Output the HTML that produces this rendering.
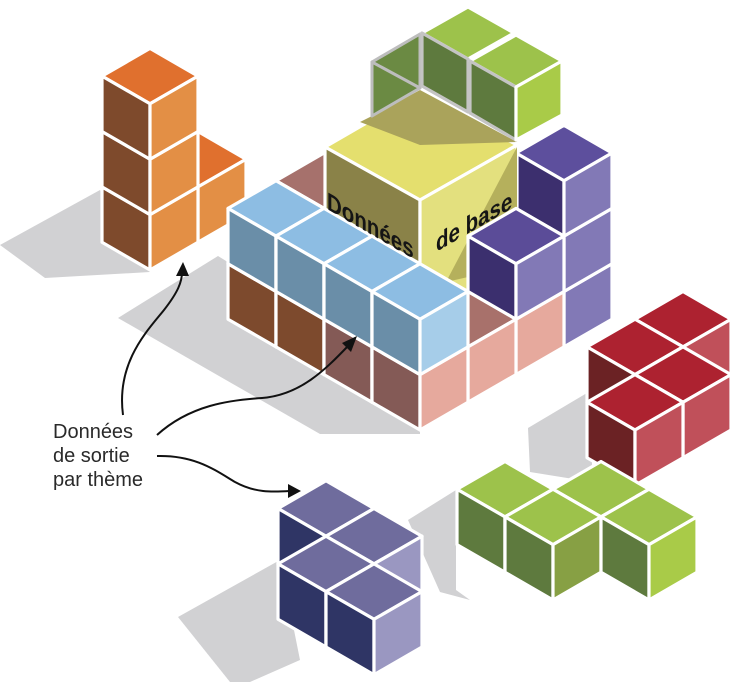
<!DOCTYPE html>
<html><head><meta charset="utf-8"><style>
html,body{margin:0;padding:0;background:#fff;}
svg{display:block;}
</style></head><body>
<svg id="s" width="740" height="682" viewBox="0 0 740 682" xmlns="http://www.w3.org/2000/svg">
<g fill="#d1d1d3">
<polygon points="0,245 100,190 150,272 45,278"/>
<polygon points="218,256 118,318 320,434 420,434 420,380"/>
<polygon points="528,428 592,390 592,482 530,472"/>
<polygon points="408,520 456,490 456,590 470,600 440,592"/>
<polygon points="178,617 280,560 300,660 250,682 230,682"/>
</g>
<g id="cubes" stroke="#fff" stroke-width="3.2" stroke-linejoin="round"></g>
<g fill="none" stroke="#111" stroke-width="2">
<path d="M123,415 C116,362 148,330 164,310 C178,292 182,282 182,272"/>
<path d="M157,435 C190,405 230,400 262,398 C300,395 325,370 348,346"/>
<path d="M157,456 C195,455 215,470 235,482 C255,493 272,492 290,491"/>
</g>
<g fill="#111">
<polygon points="183,262 176,276 189,276"/>
<polygon points="357,336 342,343 351,352"/>
<polygon points="301,491 288,484 288,498"/>
</g>
<g font-family="Liberation Sans, sans-serif" font-size="20" fill="#2a2a2a">
<text x="53" y="438">Données</text>
<text x="53" y="462">de sortie</text>
<text x="53" y="486">par thème</text>
</g>
</svg>
<script>
(function(){
var G=document.getElementById('cubes');var NS='http://www.w3.org/2000/svg';
function poly(pts,fill,attrs){var p=document.createElementNS(NS,'polygon');p.setAttribute('points',pts.map(function(a){return a[0].toFixed(1)+','+a[1].toFixed(1)}).join(' '));p.setAttribute('fill',fill);if(attrs)for(var k in attrs)p.setAttribute(k,attrs[k]);G.appendChild(p);return p;}
function cube(B,i,j,k,c){
 function P(x,y,z){return [B[0]+48*(x-y),B[1]+27.7*(x+y)-55.4*z];}
 poly([P(i,j,k+1),P(i+1,j,k+1),P(i+1,j+1,k+1),P(i,j+1,k+1)],c.t);
 poly([P(i,j+1,k),P(i+1,j+1,k),P(i+1,j+1,k+1),P(i,j+1,k+1)],c.l);
 poly([P(i+1,j,k),P(i+1,j+1,k),P(i+1,j+1,k+1),P(i+1,j,k+1)],c.r);
}
function grp(B,list,c){list.sort(function(a,b){return (a[0]+a[1]+a[2])-(b[0]+b[1]+b[2])||a[2]-b[2];});list.forEach(function(q){cube(B,q[0],q[1],q[2],q[3]||c);});}
var OR={t:'#e0702e',l:'#7e4a2c',r:'#e38f45'};
grp([150,214.6],[[0,-1,0],[0,0,0],[0,0,1],[0,0,2]],OR);
var M=[276,291.5];
var PU={t:'#5d4f9d',l:'#3c2f6e',r:'#8279b6'};
var PK={t:'#a8716b',l:'#845a56',r:'#e6a99d'};
cube(M,3,-3,0,PU);cube(M,3,-3,1,PU);cube(M,3,-3,2,PU);
cube(M,3,-2,0,PK);
cube(M,0,-1,1,{t:'#a6716c',l:'#8a5a56',r:'#a6716c'});
cube(M,3,-1,0,PK);
poly([[325,147],[420,92],[517,145],[420,200]],'#e4df6e');
poly([[325,147],[420,200],[420,330],[325,275]],'#8a8248');
poly([[420,200],[517,145],[517,265],[420,320]],'#e3e07e');
poly([[517,147],[446,282],[517,266]],'#b5b05c',{stroke:'none'});
poly([[360,122],[372,116],[420,90],[517,142],[420,145]],'#aaa35b',{stroke:'none'});
poly([[372,62],[420,34],[420,88],[372,116]],'#6b8a43',{stroke:'#bdbdbd','stroke-width':'3'});
poly([[372,62],[420,88]],'none',{stroke:'#bdbdbd','stroke-width':'3'});
poly([[422,33],[468,7],[514,33],[468,59]],'#9dc24b');
poly([[422,33],[468,59],[468,112],[422,86]],'#5e7a3e',{stroke:'#c4c4c4'});
poly([[470,61],[516,35],[562,61],[516,87]],'#9dc24b');
poly([[470,61],[516,87],[516,140],[470,113]],'#5e7a3e',{stroke:'#c4c4c4'});
poly([[516,87],[562,61],[562,115],[516,140]],'#a9cb48');
cube(M,3,-2,1,{t:'#5b4c98',l:'#3b2f6e',r:'#8279b6'});
var BR={t:'#8a5a56',l:'#7d4a2d',r:'#e6a99d'},MV={t:'#8a5a56',l:'#845a56',r:'#e6a99d'};
cube(M,0,0,0,BR);cube(M,1,0,0,BR);cube(M,2,0,0,MV);cube(M,3,0,0,MV);
var BL={t:'#8dbde3',l:'#6a8ea8',r:'#a6cde9'};
for(var i=0;i<4;i++)cube(M,i,0,1,BL);
grp([635,430],[[0,0,0],[0,-1,0],[-1,-1,0],[-1,-2,0]],{t:'#ad2230',l:'#6b2224',r:'#c0505a'});
var GR={t:'#9dc24b',l:'#5e7a3e',r:'#a9cb48'};
grp([553,544.6],[[-1,0,0,GR],[0,-1,0,GR],[0,0,0,{t:'#9dc24b',l:'#5e7a3e',r:'#87a044'}],[1,-1,0,GR]]);
grp([326,591.6],[[0,0,0],[1,0,0],[-1,-1,0],[0,-1,0]],{t:'#6f6c9d',l:'#2f3565',r:'#9a97c1'});
function txt(s,m,len){var t=document.createElementNS(NS,'text');t.setAttribute('transform',m);t.setAttribute('font-family','Liberation Sans, sans-serif');t.setAttribute('font-weight','bold');t.setAttribute('font-size','25');t.setAttribute('fill','#151515');t.setAttribute('stroke','none');t.setAttribute('textLength',len);t.setAttribute('lengthAdjust','spacingAndGlyphs');t.textContent=s;G.appendChild(t);}
txt('Données','matrix(0.866,0.5,0,1,327,209)',100);
txt('de base','matrix(0.866,-0.5,0,1,436,252)',88);
})();
</script>
</body></html>
